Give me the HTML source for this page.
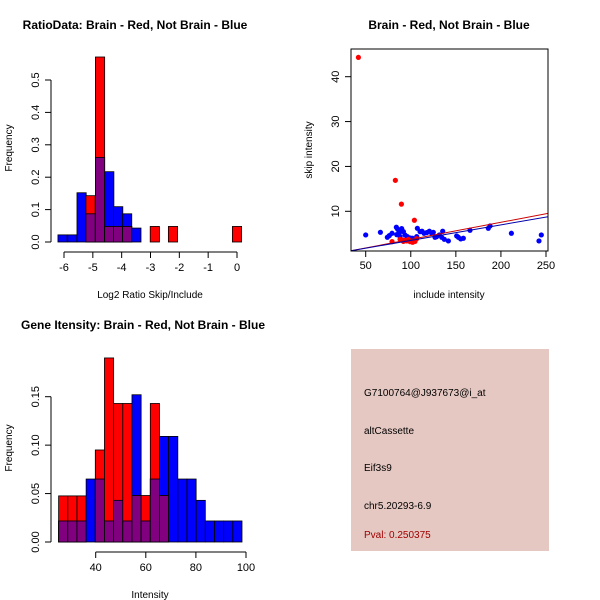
<!DOCTYPE html>
<html><head><meta charset="utf-8">
<style>
html,body{margin:0;padding:0;background:#fff;}
svg{display:block;font-family:"Liberation Sans",Arial,sans-serif;}
</style></head>
<body>
<svg id="s" width="600" height="600" viewBox="0 0 600 600" xmlns="http://www.w3.org/2000/svg">
<rect x="0" y="0" width="600" height="600" fill="#fff"/>
<g id="p1"></g>
<g id="p2"></g>
<g id="p3"></g>
<g id="p4">
<rect x="351" y="349" width="198" height="202" fill="#e5c8c2"/>
<text x="364" y="396" font-size="10" fill="#000">G7100764@J937673@i_at</text>
<text x="364" y="434" font-size="10" fill="#000">altCassette</text>
<text x="364" y="471" font-size="10" fill="#000">Eif3s9</text>
<text x="364" y="509" font-size="10" fill="#000">chr5.20293-6.9</text>
<text x="364" y="538" font-size="10" fill="#a00000">Pval: 0.250375</text>
</g>
</svg>
<script>
// ---- Panel 1 data: log2 ratio histogram
const ratioBinStarts = [-6.21,-5.87,-5.55,-5.24,-4.91,-4.59,-4.28,-3.97,-3.65,-3.34,-3.01,-2.67,-2.38,-2.06,-1.74,-1.42,-1.1,-0.8,-0.48,-0.16];
const ratioBinWidth = 0.32;
const ratioBlue = [0.022,0.022,0.152,0.087,0.261,0.217,0.109,0.087,0.043,0,0,0,0,0,0,0,0,0,0,0];
const ratioRed  = [0,0,0,0.143,0.571,0.048,0.048,0.048,0,0,0.048,0,0.048,0,0,0,0,0,0,0.048];
const ratioXTicks = [-6,-5,-4,-3,-2,-1,0];
const ratioYTicks = [0,0.1,0.2,0.3,0.4,0.5];
const ratioYLabels = ["0.0","0.1","0.2","0.3","0.4","0.5"];

// ---- Panel 2 data: scatter
const blueInclude = [50,66.3,74,76.2,79.2,84,85.5,87.3,89.9,91.8,93.6,96.2,99.2,101.8,104.7,107.3,110.3,112.5,114.7,117.7,120.6,123.2,125,128.7,131.7,135.4,137.2,141.7,150.9,152.8,155.4,158.3,165.7,186,187.9,211.6,242.2,244.8,84.4,88.1,106.6,126.9,134.3];
const blueSkip = [4.73,5.32,4.21,4.58,5.1,6.44,5.99,5.25,6.14,5.47,4.73,4.36,4.06,3.99,3.76,6.21,5.47,5.55,5.1,5.25,5.55,5.1,5.32,4.36,4.73,5.55,3.76,3.39,4.51,4.21,3.84,3.99,5.77,6.21,6.73,5.1,3.39,4.73,4.8,4.36,4.36,4.21,4.21];
const redInclude = [41.9,82.9,89.6,104,79.2,88.1,91.8,95.5,99.2,102.1,104.7,106.6,97.3,91.8];
const redSkip = [44.3,16.9,11.6,8.0,3.24,3.76,3.6,3.4,3.24,3.1,3.3,3.9,3.76,3.3];
const redFit = [-0.07,0.0381];   // intercept, slope
const blueFit = [0.04,0.0347];
const scatXTicks = [50,100,150,200,250];
const scatYTicks = [10,20,30,40];

// ---- Panel 3 data: gene intensity histogram
const geneBinStarts = [25.2,28.86,32.52,36.18,39.84,43.5,47.16,50.82,54.48,58.14,61.8,65.46,69.12,72.78,76.44,80.1,83.76,87.42,91.08,94.74];
const geneBinWidth = 3.66;
const geneBlue = [0.0217,0.0217,0.0217,0.065,0.065,0.0217,0.043,0.0217,0.152,0.0217,0.065,0.109,0.109,0.065,0.065,0.043,0.0217,0.0217,0.0217,0.0217];
const geneRed  = [0.0476,0.0476,0.0476,0,0.095,0.19,0.143,0.143,0.048,0.048,0.143,0.048,0,0,0,0,0,0,0,0];
const geneXTicks = [40,60,80,100];
const geneYTicks = [0,0.05,0.1,0.15];
const geneYLabels = ["0.00","0.05","0.10","0.15"];

const NS = "http://www.w3.org/2000/svg";
function mk(parent, tag, attrs, text){
  const e = document.createElementNS(NS, tag);
  for (const k in attrs) e.setAttribute(k, attrs[k]);
  if (text !== undefined) e.textContent = text;
  parent.appendChild(e);
  return e;
}
function lin(d0,d1,r0,r1){ return v => r0 + (v-d0)*(r1-r0)/(d1-d0); }

function histogram(g, o){
  const sx = o.sx, sy = o.sy;
  for (let i=0;i<o.starts.length;i++){
    const x0 = sx(o.starts[i]), x1 = sx(o.starts[i]+o.width);
    const layers = [[o.blue[i],'#0000ff','bar-blue'],[o.red[i],'#ff0000','bar-red'],[Math.min(o.blue[i],o.red[i]),'#800080','bar-overlap']];
    for (const [v,c,nm] of layers){
      if (v<=0) continue;
      const r = mk(g,'rect',{x:x0,y:sy(v),width:x1-x0,height:sy(0)-sy(v),fill:c,stroke:'#000','stroke-width':0.8});
      
      
    }
  }
  // y axis
  const yAx = mk(g,'g',{});
  
  
  mk(yAx,'line',{x1:o.yAxisX,x2:o.yAxisX,y1:sy(o.yTicks[0]),y2:sy(o.yTicks[o.yTicks.length-1]),stroke:'#000'});
  o.yTicks.forEach((t,i)=>{
    mk(yAx,'line',{x1:o.yAxisX-6,x2:o.yAxisX,y1:sy(t),y2:sy(t),stroke:'#000'});
    const tx = mk(yAx,'text',{x:o.yAxisX-12,y:sy(t),'font-size':11,'text-anchor':'middle',transform:`rotate(-90 ${o.yAxisX-12} ${sy(t)})`},o.yLabels[i]);
    
    
  });
  const xAx = mk(g,'g',{});
  
  
  mk(xAx,'line',{x1:sx(o.xTicks[0]),x2:sx(o.xTicks[o.xTicks.length-1]),y1:o.xAxisY,y2:o.xAxisY,stroke:'#000'});
  o.xTicks.forEach(t=>{
    mk(xAx,'line',{x1:sx(t),x2:sx(t),y1:o.xAxisY,y2:o.xAxisY+6,stroke:'#000'});
    const tx = mk(xAx,'text',{x:sx(t),y:o.xAxisY+19,'font-size':11,'text-anchor':'middle'},String(t));
    
    
  });
}

// Panel 1
(function(){
  const g = document.getElementById('p1');
  histogram(g,{sx:lin(-6,0,64,237),sy:lin(0,0.5,242,80),starts:ratioBinStarts,width:ratioBinWidth,blue:ratioBlue,red:ratioRed,
    xTicks:ratioXTicks,yTicks:ratioYTicks,yLabels:ratioYLabels,yAxisX:51,xAxisY:252});
  let t = mk(g,'text',{x:135,y:29,'font-size':12,'font-weight':'bold','text-anchor':'middle'},'RatioData: Brain - Red, Not Brain - Blue');
   
  t = mk(g,'text',{x:150,y:298,'font-size':10,'text-anchor':'middle'},'Log2 Ratio Skip/Include');
   
  t = mk(g,'text',{x:12,y:148,'font-size':10,'text-anchor':'middle',transform:'rotate(-90 12 148)'},'Frequency');
   
})();

// Panel 2
(function(){
  const g = document.getElementById('p2');
  const sx = lin(50,250,365.7,546), sy = lin(10,40,211.3,76.7);
  const L=351,R=548,T=49,B=251;
  mk(g,'defs',{}).innerHTML = `<clipPath id="cp2"><rect x="${L}" y="${T}" width="${R-L}" height="${B-T}"/></clipPath>`;
  const pts = mk(g,'g',{'clip-path':'url(#cp2)'});
  blueInclude.forEach((v,i)=>{
    const c = mk(pts,'circle',{cx:sx(v),cy:sy(blueSkip[i]),r:2.6,fill:'#0000ff'});
    
    
  });
  redInclude.forEach((v,i)=>{
    const c = mk(pts,'circle',{cx:sx(v),cy:sy(redSkip[i]),r:2.6,fill:'#ff0000'});
    
    
  });
  const xa = 20, xb = 270;
  let l = mk(pts,'line',{x1:sx(xa),y1:sy(redFit[0]+redFit[1]*xa),x2:sx(xb),y2:sy(redFit[0]+redFit[1]*xb),stroke:'#cc0000','stroke-width':1});
   
  l = mk(pts,'line',{x1:sx(xa),y1:sy(blueFit[0]+blueFit[1]*xa),x2:sx(xb),y2:sy(blueFit[0]+blueFit[1]*xb),stroke:'#0000aa','stroke-width':1});
   
  const box = mk(g,'rect',{x:L,y:T,width:R-L,height:B-T,fill:'none',stroke:'#000'});
   
  scatXTicks.forEach(t=>{
    mk(g,'line',{x1:sx(t),x2:sx(t),y1:B,y2:B+6,stroke:'#000'});
    const tx = mk(g,'text',{x:sx(t),y:B+18,'font-size':11,'text-anchor':'middle'},String(t));
     
  });
  scatYTicks.forEach(t=>{
    mk(g,'line',{x1:L-6,x2:L,y1:sy(t),y2:sy(t),stroke:'#000'});
    const tx = mk(g,'text',{x:L-12,y:sy(t),'font-size':11,'text-anchor':'middle',transform:`rotate(-90 ${L-12} ${sy(t)})`},String(t));
     
  });
  let t = mk(g,'text',{x:449,y:29,'font-size':12,'font-weight':'bold','text-anchor':'middle'},'Brain - Red, Not Brain - Blue');
   
  t = mk(g,'text',{x:449,y:298,'font-size':10,'text-anchor':'middle'},'include intensity');
   
  t = mk(g,'text',{x:312,y:150,'font-size':10,'text-anchor':'middle',transform:'rotate(-90 312 150)'},'skip intensity');
   
})();

// Panel 3
(function(){
  const g = document.getElementById('p3');
  histogram(g,{sx:lin(40,100,95.7,246),sy:lin(0,0.15,542,396.7),starts:geneBinStarts,width:geneBinWidth,blue:geneBlue,red:geneRed,
    xTicks:geneXTicks,yTicks:geneYTicks,yLabels:geneYLabels,yAxisX:51,xAxisY:552});
  let t = mk(g,'text',{x:143,y:329,'font-size':12,'font-weight':'bold','text-anchor':'middle'},'Gene Itensity: Brain - Red, Not Brain - Blue');
   
  t = mk(g,'text',{x:150,y:598,'font-size':10,'text-anchor':'middle'},'Intensity');
   
  t = mk(g,'text',{x:12,y:448,'font-size':10,'text-anchor':'middle',transform:'rotate(-90 12 448)'},'Frequency');
   
})();
</script>
</body></html>
